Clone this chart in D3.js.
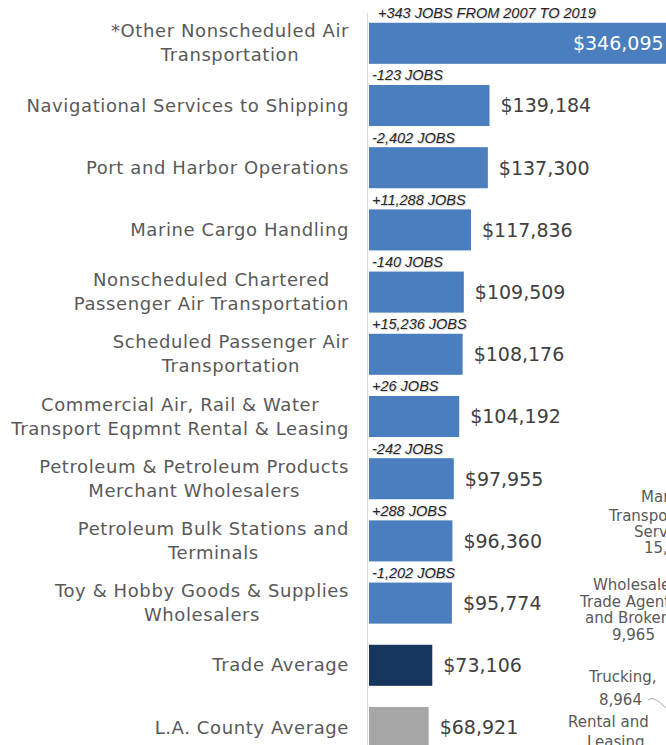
<!DOCTYPE html>
<html>
<head>
<meta charset="utf-8">
<script src="https://cdn.jsdelivr.net/npm/d3@7"></script>
<style>
    html, body { margin: 0; padding: 0; background: #fff; overflow: hidden; }
    svg { display: block; }
</style>
</head>
<body>
<div id="chart"></div>
<script>
// industry labels, top to bottom (one entry per line of text)
const categories = [
    ["*Other Nonscheduled Air", "Transportation"],
    ["Navigational Services to Shipping"],
    ["Port and Harbor Operations"],
    ["Marine Cargo Handling"],
    ["Nonscheduled Chartered", "Passenger Air Transportation"],
    ["Scheduled Passenger Air", "Transportation"],
    ["Commercial Air, Rail & Water", "Transport Eqpmnt Rental & Leasing"],
    ["Petroleum & Petroleum Products", "Merchant Wholesalers"],
    ["Petroleum Bulk Stations and", "Terminals"],
    ["Toy & Hobby Goods & Supplies", "Wholesalers"],
    ["Trade Average"],
    ["L.A. County Average"]
];

// average annual wage
const wages = [346095, 139184, 137300, 117836, 109509, 108176, 104192, 97955, 96360, 95774, 73106, 68921];

// change in jobs 2007 to 2019
const jobChanges = [
    "+343 JOBS FROM 2007 TO 2019", "-123 JOBS", "-2,402 JOBS", "+11,288 JOBS",
    "-140 JOBS", "+15,236 JOBS", "+26 JOBS", "-242 JOBS", "+288 JOBS", "-1,202 JOBS", "", ""
];

// kind of bar (industry or benchmark average)
const barKinds = ["industry", "industry", "industry", "industry", "industry", "industry",
    "industry", "industry", "industry", "industry", "trade", "county"];

// labels of the neighbouring pie chart, cut off by the right edge
const pieLabels = ["Marine", "Transportation", "Services,", "15,",
    "Wholesale", "Trade Agents", "and Brokers,", "9,965",
    "Trucking,", "8,964", "Rental and", "Leasing,"];

const width = 666;
const height = 745;
const marginLeft = 369;

const kindColor = d3.scaleOrdinal()
    .domain(["industry", "trade", "county"])
    .range(["#4a7ebf", "#17365d", "#a6a6a6"]);

const xScale = d3.scaleLinear()
    .domain([0, 350000])
    .range([marginLeft, 672]);

const yScale = d3.scaleBand()
    .domain(d3.range(categories.length))
    .range([12.2, 758.6])
    .paddingInner(0.34)
    .paddingOuter(0.17);

const svg = d3.select("#chart").append("svg")
    .attr("width", width)
    .attr("height", height)
    .attr("viewBox", [0, 0, width, height]);

// category axis with multi-line labels, lines centred on each other
const yAxis = d3.axisLeft(yScale).tickSize(0).tickSizeOuter(0).tickPadding(18).tickFormat("");

svg.append("g")
    .attr("transform", `translate(${marginLeft - 2},0)`)
    .call(yAxis)
    .call(g => g.select(".domain").attr("stroke", "#d9d9d9"))
    .call(g => g.selectAll(".tick text")
        .attr("fill", "#595959")
        .attr("font-family", "'DejaVu Sans', sans-serif")
        .attr("font-size", 18)
        .attr("letter-spacing", "0.6px")
        .attr("dy", null)
        .each(function (i) {
            const lines = categories[i];
            const tspans = d3.select(this).selectAll("tspan")
                .data(lines)
                .join("tspan")
                .attr("y", (d, j) => 6 + (j - (lines.length - 1) / 2) * 24)
                .text(d => d);
            const maxW = d3.max(tspans.nodes(), n => n.getComputedTextLength());
            d3.select(this).attr("text-anchor", "middle");
            tspans.attr("x", -18 - maxW / 2);
        }));

// bars
svg.append("g")
    .selectAll("rect")
    .data(wages)
    .join("rect")
    .attr("x", xScale(0))
    .attr("y", (d, i) => yScale(i))
    .attr("width", d => xScale(d) - xScale(0))
    .attr("height", yScale.bandwidth())
    .attr("fill", (d, i) => kindColor(barKinds[i]));

// wage labels (inside the bar when it runs off the chart)
svg.append("g")
    .attr("font-family", "'DejaVu Sans', sans-serif")
    .attr("font-size", 19)
    .selectAll("text")
    .data(wages)
    .join("text")
    .attr("y", (d, i) => yScale(i) + yScale.bandwidth() / 2)
    .attr("dy", "0.36em")
    .attr("x", d => xScale(d) > width ? xScale(d) - 5 : xScale(d) + 11)
    .attr("text-anchor", d => xScale(d) > width ? "end" : "start")
    .attr("fill", d => xScale(d) > width ? "#ffffff" : "#404040")
    .text(d => "$" + d3.format(",")(d));

// job change notes above each bar
svg.append("g")
    .attr("font-family", "'Liberation Sans', Arial, sans-serif")
    .attr("font-style", "italic")
    .attr("font-size", 14.5)
    .attr("fill", "#262626")
    .style("text-shadow", "1px 1px 1px rgba(0,0,0,0.2)")
    .selectAll("text")
    .data(jobChanges)
    .join("text")
    .attr("x", (d, i) => xScale(0) + (i === 0 ? 9 : 3))
    .attr("y", (d, i) => yScale(i) - 4.5)
    .text(d => d);

// partial labels of the pie chart on the right
const pieX = [641, 609, 634, 644, 593, 580, 585, 612, 589, 599, 568, 587];
const pieY = [502, 521, 537, 553, 590, 607, 623, 640, 682, 705, 727, 747];

svg.append("g")
    .attr("font-family", "'DejaVu Sans', sans-serif")
    .attr("font-size", 15)
    .attr("fill", "#595959")
    .selectAll("text")
    .data(pieLabels)
    .join("text")
    .attr("x", (d, i) => pieX[i])
    .attr("y", (d, i) => pieY[i])
    .text(d => d);

// leader line of the trucking slice
svg.append("path")
    .attr("d", d3.line().curve(d3.curveBasis)([[648, 700], [654, 697], [666, 708]]))
    .attr("fill", "none")
    .attr("stroke", "#a6a6a6")
    .attr("stroke-width", 1);
</script>
</body>
</html>
